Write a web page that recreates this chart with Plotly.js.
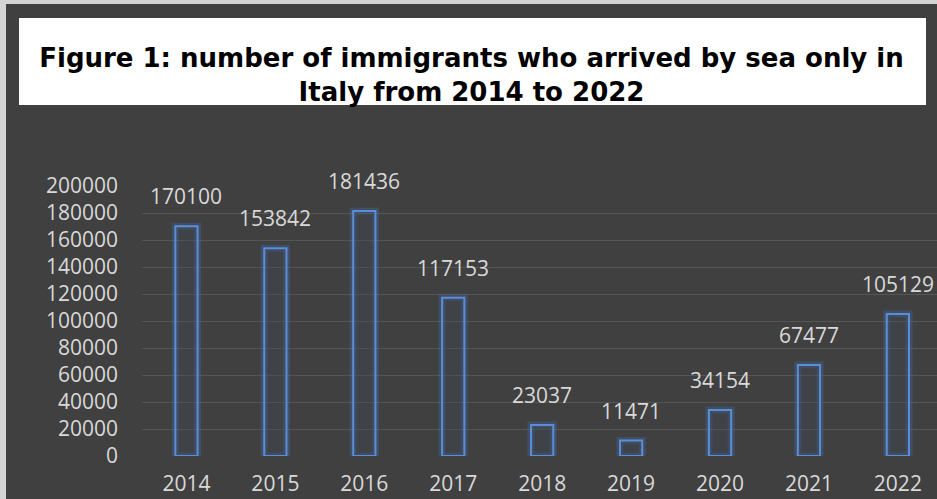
<!DOCTYPE html>
<html><head><meta charset="utf-8">
<script src="https://cdn.plot.ly/plotly-3.0.1.min.js"></script>
<style>
html,body{margin:0;padding:0;background:#d4d4d4;}
#wrap{position:absolute;left:0;top:0;width:937px;height:499px;background:#d4d4d4;}
#chart{position:absolute;left:6px;top:4px;width:931px;height:495px;}
</style></head>
<body><div id="wrap"><div id="chart"></div></div>
<script>
const years = ['2014','2015','2016','2017','2018','2019','2020','2021','2022'];
const arrivals = [170100, 153842, 181436, 117153, 23037, 11471, 34154, 67477, 105129];
const yTicks = [0,20000,40000,60000,80000,100000,120000,140000,160000,180000,200000];
const titleText = '<b>Figure 1: number of immigrants who arrived by sea only in<br>Italy from 2014 to 2022</b>';

const labelColor = '#d9d9d9';
const font = 'Open Sans, Lato, sans-serif';

const glow = {
  type:'bar', x: years, y: arrivals, hoverinfo:'skip', showlegend:false,
  marker:{color:'rgba(0,0,0,0)', line:{color:'rgba(70,120,200,0.28)', width:7}}
};
const bars = {
  type:'bar', x: years, y: arrivals, showlegend:false,
  marker:{color:'rgba(60,70,90,0.25)', line:{color:'#5b8ed6', width:2}}
};

const annotations = years.map((yr,i)=>({
  x: i, y: arrivals[i], xref:'x', yref:'y', text: String(arrivals[i]),
  showarrow:false, yanchor:'bottom', yshift:14,
  font:{family:font, size:21, color:labelColor}
}));

const W = 931, H = 495, L = 136, R = 931, T = 182, B = 452;
const px = v => (v - L)/(R - L);
const py = v => (B - v)/(B - T);

const layout = {
  width: W, height: H,
  paper_bgcolor:'#404040', plot_bgcolor:'#404040',
  margin:{l:L, r:W-R, t:T, b:H-B, pad:0},
  barmode:'overlay', bargap:0.75,
  title:{text:titleText, x:0.5, xref:'container', xanchor:'center',
         y:1-63/H, yref:'container', yanchor:'middle',
         font:{family:'DejaVu Sans, Verdana, sans-serif', size:26, color:'#000000'}},
  xaxis:{type:'category', range:[-0.5, 8.44], showgrid:false, zeroline:false, showline:false, ticks:'',
         tickfont:{family:font, size:21, color:labelColor}, ticklabelstandoff:13},
  yaxis:{range:[0,200000], tickvals:yTicks, ticktext:yTicks.map(String),
         showgrid:true, gridcolor:'#555555', gridwidth:1, zeroline:false, showline:false, ticks:'',
         tickfont:{family:font, size:21, color:labelColor}, ticklabelstandoff:23},
  shapes:[{type:'rect', xref:'paper', yref:'paper', x0:px(13), x1:px(920), y0:py(101), y1:py(14),
           fillcolor:'#ffffff', line:{width:0}, layer:'below'}],
  annotations: annotations
};

Plotly.newPlot('chart', [glow, bars], layout, {displayModeBar:false, staticPlot:true});
</script></body></html>
